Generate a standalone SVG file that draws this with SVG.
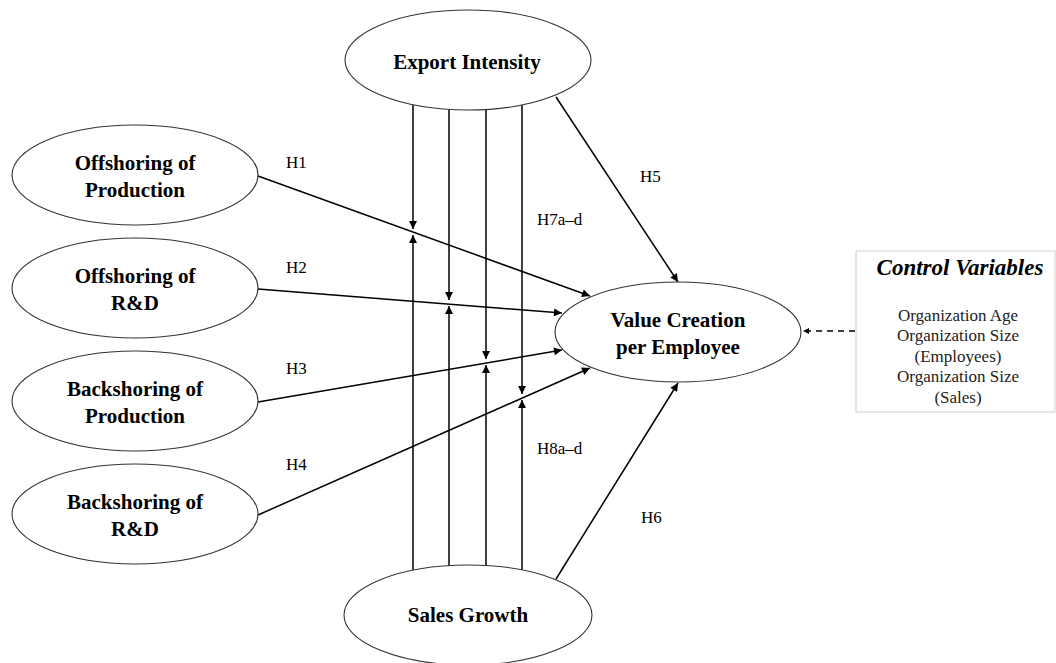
<svg xmlns="http://www.w3.org/2000/svg" width="1056" height="663" viewBox="0 0 1056 663">
<style>
.node ellipse{fill:#fff;stroke:#333;stroke-width:1.1}
.nt{font-family:"Liberation Serif","Times New Roman",serif;font-weight:bold;font-size:21px;text-anchor:middle;fill:#000}
.lbl{font-family:"Liberation Serif","Times New Roman",serif;font-size:17px;fill:#000}
.edge{stroke:#000;stroke-width:1.5;fill:none}
.ct{font-family:"Liberation Serif","Times New Roman",serif;font-size:17px;text-anchor:middle;fill:#222}
</style>
<defs>
<marker id="ah" viewBox="0 0 10 10" refX="10" refY="5" markerWidth="10" markerHeight="8" markerUnits="userSpaceOnUse" orient="auto"><path d="M0,0 L10,5 L0,10 z" fill="#000"/></marker>
<marker id="ahs" viewBox="0 0 10 10" refX="10" refY="5" markerWidth="7" markerHeight="6" markerUnits="userSpaceOnUse" orient="auto"><path d="M0,0 L10,5 L0,10 z" fill="#000"/></marker>
</defs>
<rect width="1056" height="663" fill="#fff"/>
<g id="connectors">
<line class="edge" x1="258" y1="176" x2="590" y2="296" marker-end="url(#ah)"/>
<line class="edge" x1="258" y1="289" x2="562" y2="313" marker-end="url(#ah)"/>
<line class="edge" x1="258" y1="402" x2="562" y2="350" marker-end="url(#ah)"/>
<line class="edge" x1="258" y1="515" x2="590" y2="368" marker-end="url(#ah)"/>
<line class="edge" x1="556" y1="97" x2="678" y2="282" marker-end="url(#ah)"/>
<line class="edge" x1="556" y1="579" x2="678" y2="383" marker-end="url(#ah)"/>
<line class="edge" x1="413" y1="105" x2="413" y2="229" marker-end="url(#ah)"/>
<line class="edge" x1="449" y1="109" x2="449" y2="300" marker-end="url(#ah)"/>
<line class="edge" x1="486" y1="109" x2="486" y2="359" marker-end="url(#ah)"/>
<line class="edge" x1="522" y1="105" x2="522" y2="394" marker-end="url(#ah)"/>
<line class="edge" x1="413" y1="570" x2="413" y2="235" marker-end="url(#ah)"/>
<line class="edge" x1="449" y1="566" x2="449" y2="306" marker-end="url(#ah)"/>
<line class="edge" x1="486" y1="566" x2="486" y2="365" marker-end="url(#ah)"/>
<line class="edge" x1="522" y1="570" x2="522" y2="400" marker-end="url(#ah)"/>
<line x1="855" y1="331" x2="803" y2="331" stroke="#000" stroke-width="1.5" stroke-dasharray="6,5" marker-end="url(#ahs)"/>
<text class="lbl" x="286" y="168">H1</text>
<text class="lbl" x="286" y="273">H2</text>
<text class="lbl" x="286" y="374">H3</text>
<text class="lbl" x="286" y="470">H4</text>
<text class="lbl" x="640" y="182">H5</text>
<text class="lbl" x="641" y="523">H6</text>
<text class="lbl" x="537" y="225">H7a–d</text>
<text class="lbl" x="537" y="454">H8a–d</text>
</g>
<g id="export" class="node"><ellipse cx="468" cy="60" rx="123" ry="50"/><text class="nt" x="467" y="69">Export Intensity</text></g>
<g id="offprod" class="node"><ellipse cx="135" cy="175" rx="123" ry="50"/><text class="nt" x="135" y="170">Offshoring of</text><text class="nt" x="135" y="197">Production</text></g>
<g id="offrd" class="node"><ellipse cx="135" cy="288" rx="123" ry="50"/><text class="nt" x="135" y="283">Offshoring of</text><text class="nt" x="135" y="310">R&amp;D</text></g>
<g id="backprod" class="node"><ellipse cx="135" cy="401" rx="123" ry="50"/><text class="nt" x="135" y="396">Backshoring of</text><text class="nt" x="135" y="423">Production</text></g>
<g id="backrd" class="node"><ellipse cx="135" cy="514" rx="123" ry="50"/><text class="nt" x="135" y="509">Backshoring of</text><text class="nt" x="135" y="536">R&amp;D</text></g>
<g id="value" class="node"><ellipse cx="678" cy="332" rx="123" ry="50"/><text class="nt" x="678" y="327">Value Creation</text><text class="nt" x="678" y="354">per Employee</text></g>
<g id="sales" class="node"><ellipse cx="468" cy="615" rx="124" ry="50"/><text class="nt" x="468" y="622">Sales Growth</text></g>
<g id="controls">
<rect x="856" y="251" width="199" height="161" fill="#fff" stroke="#cfcfcf" stroke-width="1"/>
<text x="960" y="275" font-family="'Liberation Serif','Times New Roman',serif" font-size="23" font-weight="bold" font-style="italic" text-anchor="middle">Control Variables</text>
<text class="ct" x="958" y="321">Organization Age</text>
<text class="ct" x="958" y="341">Organization Size</text>
<text class="ct" x="958" y="362">(Employees)</text>
<text class="ct" x="958" y="382">Organization Size</text>
<text class="ct" x="958" y="403">(Sales)</text>
</g>
</svg>
